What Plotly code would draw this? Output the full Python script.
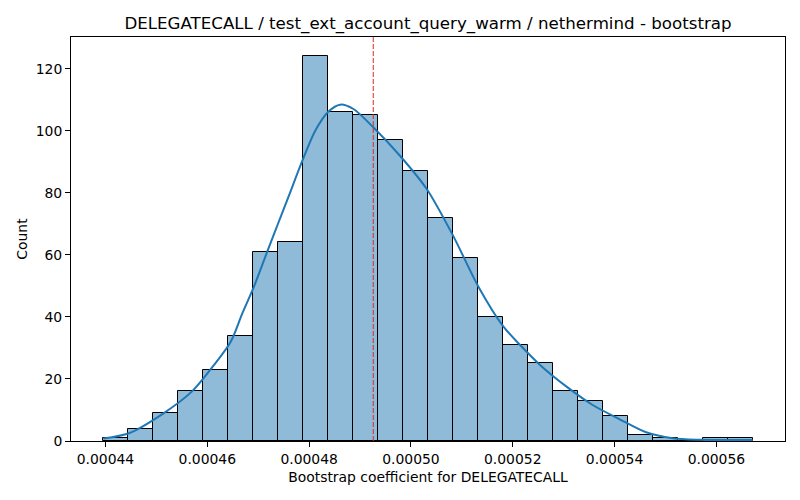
import plotly.graph_objects as go

# ---- data ----
bin_start = 0.0004396
bin_width = 0.000004904
counts = [1, 4, 9, 16, 23, 34, 61, 64, 124, 106, 105, 97, 87, 72, 59, 40,
          31, 25, 16, 13, 8, 2, 1, 0, 1, 1]

kde_x = [0.0004396, 0.0004446, 0.0004511, 0.0004570, 0.0004606, 0.0004646,
         0.0004668, 0.0004691, 0.0004720, 0.0004740, 0.0004759, 0.0004786,
         0.0004812, 0.0004838, 0.0004861, 0.0004887, 0.0004926, 0.0004978,
         0.0005031, 0.0005083, 0.0005132, 0.0005181, 0.0005214, 0.0005253,
         0.0005305, 0.0005357, 0.0005410, 0.0005462, 0.0005514, 0.0005567,
         0.0005620, 0.0005671]
kde_y = [0.8, 2.5, 8.6, 16.0, 23.0, 32.0, 40.8, 49.5, 62.0, 70.5, 78.5, 90.0,
         100.0, 106.2, 108.4, 107.0, 101.1, 92.0, 81.2, 66.1, 49.9, 37.0, 31.0,
         24.6, 17.6, 11.6, 7.0, 2.8, 0.9, 0.4, 0.3, 0.3]

mean_value = 0.0004926

x_ticks = [0.00044, 0.00046, 0.00048, 0.00050, 0.00052, 0.00054, 0.00056]
x_tick_labels = ["0.00044", "0.00046", "0.00048", "0.00050", "0.00052", "0.00054", "0.00056"]
y_ticks = [0, 20, 40, 60, 80, 100, 120]

title = "DELEGATECALL / test_ext_account_query_warm / nethermind - bootstrap"
x_label = "Bootstrap coefficient for DELEGATECALL"
y_label = "Count"

# ---- derived ----
centers = [bin_start + (i + 0.5) * bin_width for i in range(len(counts))]
data_lo = bin_start
data_hi = bin_start + len(counts) * bin_width
span = data_hi - data_lo
x_range = [data_lo - 0.05 * span, data_hi + 0.05 * span]
y_range = [0, max(counts) * 1.05]

fig = go.Figure()
fig.add_trace(go.Bar(
    x=centers, y=counts, width=bin_width,
    marker=dict(color="rgba(31,119,180,0.5)", line=dict(color="black", width=1)),
    showlegend=False, hoverinfo="x+y",
))
fig.add_trace(go.Scatter(
    x=kde_x, y=kde_y, mode="lines",
    line=dict(color="#1f77b4", width=2, shape="spline", smoothing=0.8),
    showlegend=False,
))
fig.add_shape(type="line", x0=mean_value, x1=mean_value, y0=0, y1=1,
              xref="x", yref="paper",
              line=dict(color="#e3261f", width=1, dash="5px,2px"))

font_family = "DejaVu Sans"
fig.update_layout(
    width=800, height=500,
    margin=dict(l=71, r=15, t=37, b=59),
    plot_bgcolor="white", paper_bgcolor="white",
    bargap=0,
    font=dict(family=font_family, size=13.9, color="black"),
    title=dict(text=title, xref="paper", x=0.5, xanchor="center",
               y=1 - 23 / 500, yanchor="middle",
               font=dict(family=font_family, size=16.67, color="black")),
    xaxis=dict(
        range=x_range, tickvals=x_ticks, ticktext=x_tick_labels,
        showgrid=False, zeroline=False,
        showline=True, mirror=True, linecolor="black", linewidth=1,
        ticks="outside", ticklen=5, tickcolor="black", tickwidth=1,
        tickfont=dict(size=13.9),
        title=dict(text=x_label, font=dict(size=13.9), standoff=6),
    ),
    yaxis=dict(
        range=y_range, tickvals=y_ticks,
        showgrid=False, zeroline=False,
        showline=True, mirror=True, linecolor="black", linewidth=1,
        ticks="outside", ticklen=5, tickcolor="black", tickwidth=1,
        tickfont=dict(size=13.9),
        title=dict(text=y_label, font=dict(size=13.9), standoff=4),
    ),
)

fig.write_html("out.html", config={"displayModeBar": False},
               post_script="document.body.style.margin='0px';")
